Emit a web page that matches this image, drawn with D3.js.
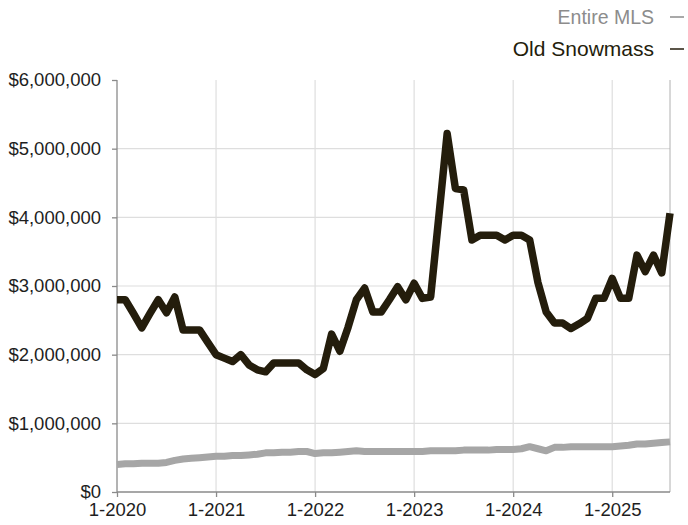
<!DOCTYPE html>
<html>
<head>
<meta charset="utf-8">
<script src="https://cdn.jsdelivr.net/npm/d3@7"></script>
<style>
    body { margin: 0; background: #fff; }
    svg text { font-family: 'Liberation Sans', Arial, Helvetica, sans-serif; }
</style>
</head>
<body>
<div id="chart"></div>
<script>

// monthly values, 1-2020 .. 8-2025 (in millions of $)
var oldSnowmass = [
    2.80, 2.80, 2.60, 2.39, 2.60, 2.80, 2.61, 2.84, 2.36, 2.36, 2.36, 2.18,
    2.00, 1.95, 1.90, 2.00, 1.85, 1.78, 1.75, 1.88, 1.88, 1.88, 1.88, 1.78,
    1.71, 1.80, 2.30, 2.05, 2.40, 2.80, 2.97, 2.62, 2.62, 2.80, 2.99, 2.80,
    3.04, 2.82, 2.84, 4.02, 5.22, 4.42, 4.40, 3.67, 3.74, 3.74, 3.74, 3.67,
    3.74, 3.74, 3.67, 3.05, 2.62, 2.46, 2.46, 2.38, 2.45, 2.53, 2.82, 2.82,
    3.11, 2.82, 2.82, 3.45, 3.21, 3.45, 3.19, 4.06
];
var entireMLS = [
    0.40, 0.41, 0.41, 0.42, 0.42, 0.42, 0.43, 0.46, 0.48, 0.49, 0.50, 0.51,
    0.52, 0.52, 0.53, 0.53, 0.54, 0.55, 0.57, 0.57, 0.58, 0.58, 0.59, 0.59,
    0.56, 0.57, 0.57, 0.58, 0.59, 0.60, 0.59, 0.59, 0.59, 0.59, 0.59, 0.59,
    0.59, 0.59, 0.60, 0.60, 0.60, 0.60, 0.61, 0.61, 0.61, 0.61, 0.62, 0.62,
    0.62, 0.63, 0.66, 0.63, 0.60, 0.65, 0.65, 0.66, 0.66, 0.66, 0.66, 0.66,
    0.66, 0.67, 0.68, 0.70, 0.70, 0.71, 0.72, 0.73
];
var yearLabels = ['1-2020', '1-2021', '1-2022', '1-2023', '1-2024', '1-2025'];
var yTicks = [0, 1, 2, 3, 4, 5, 6];
var legendItems = [
    {name: 'Entire MLS', color: '#8c8c8c'},
    {name: 'Old Snowmass', color: '#241d0c'}
];

var width = 688, height = 525,
    margin = {top: 80, right: 18, bottom: 33, left: 117},
    lineColor = {mls: '#a6a6a6', snow: '#241d0c'};

var svg = d3.select('#chart').append('svg')
    .attr('width', width)
    .attr('height', height);

var xScale = d3.scaleLinear()
    .domain([0, oldSnowmass.length - 1])
    .range([margin.left, width - margin.right]);

var yScale = d3.scaleLinear()
    .domain([0, 6])
    .range([height - margin.bottom, margin.top]);

/////// GRID
svg.append('g')
    .selectAll('line')
    .data(yTicks.filter(d => d > 0 && d < 6))
    .enter().append('line')
    .attr('x1', margin.left).attr('x2', width - margin.right)
    .attr('y1', d => yScale(d)).attr('y2', d => yScale(d))
    .attr('stroke', '#dedede').attr('stroke-width', 1.2);

svg.append('g')
    .selectAll('line')
    .data(yearLabels.slice(1))
    .enter().append('line')
    .attr('x1', (d, i) => xScale((i + 1) * 12)).attr('x2', (d, i) => xScale((i + 1) * 12))
    .attr('y1', margin.top).attr('y2', height - margin.bottom)
    .attr('stroke', '#dedede').attr('stroke-width', 1.2);

// right border
svg.append('line')
    .attr('x1', width - margin.right).attr('x2', width - margin.right)
    .attr('y1', margin.top).attr('y2', height - margin.bottom)
    .attr('stroke', '#b0b0b0');
//// END OF GRID

var yAxis = d3.axisLeft(yScale)
    .tickValues(yTicks)
    .tickSize(5)
    .tickPadding(11)
    .tickFormat(d => d === 0 ? '$0' : '$' + d3.format(',')(d * 1000000));

var gY = svg.append('g')
    .attr('transform', 'translate(' + margin.left + ',0)')
    .call(yAxis);

var xAxis = d3.axisBottom(xScale)
    .tickValues(yearLabels.map((d, i) => i * 12))
    .tickSize(5)
    .tickPadding(6)
    .tickFormat((d, i) => yearLabels[i]);

var gX = svg.append('g')
    .attr('transform', 'translate(0,' + (height - margin.bottom) + ')')
    .call(xAxis);

[gX, gY].forEach(function (g) {
    g.select('.domain').attr('stroke', '#8a8a8a').attr('stroke-width', 1.3);
    g.selectAll('.tick line').attr('stroke', '#8a8a8a').attr('stroke-width', 1.3);
    g.selectAll('.tick text')
        .attr('fill', '#1e1e1e')
        .style('font-size', '18.5px');
});
gX.select('.domain').attr('d', 'M' + margin.left + ',0H' + (width - margin.right));
gY.select('.domain').attr('d', 'M0,' + margin.top + 'V' + (height - margin.bottom));

var line = d3.line()
    .x((d, i) => xScale(i))
    .y(d => yScale(d));

svg.append('path')
    .datum(entireMLS)
    .attr('d', line)
    .attr('fill', 'none')
    .attr('stroke', lineColor.mls)
    .attr('stroke-width', 7)
    .attr('stroke-linejoin', 'round');

svg.append('path')
    .datum(oldSnowmass)
    .attr('d', line)
    .attr('fill', 'none')
    .attr('stroke', lineColor.snow)
    .attr('stroke-width', 7.5)
    .attr('stroke-linejoin', 'round');

// legend
var legend = svg.append('g')
    .selectAll('g')
    .data(legendItems)
    .enter().append('g')
    .attr('transform', (d, i) => 'translate(0,' + (24 + i * 32) + ')');

legend.append('text')
    .attr('x', 654)
    .attr('text-anchor', 'end')
    .attr('fill', d => d.color)
    .style('font-size', (d, i) => i === 0 ? '19.5px' : '21px')
    .text(d => d.name);

legend.append('line')
    .attr('x1', 670).attr('x2', 684)
    .attr('y1', -7).attr('y2', -7)
    .attr('stroke', d => d.color)
    .attr('stroke-width', 1.5);

</script>
</body>
</html>
